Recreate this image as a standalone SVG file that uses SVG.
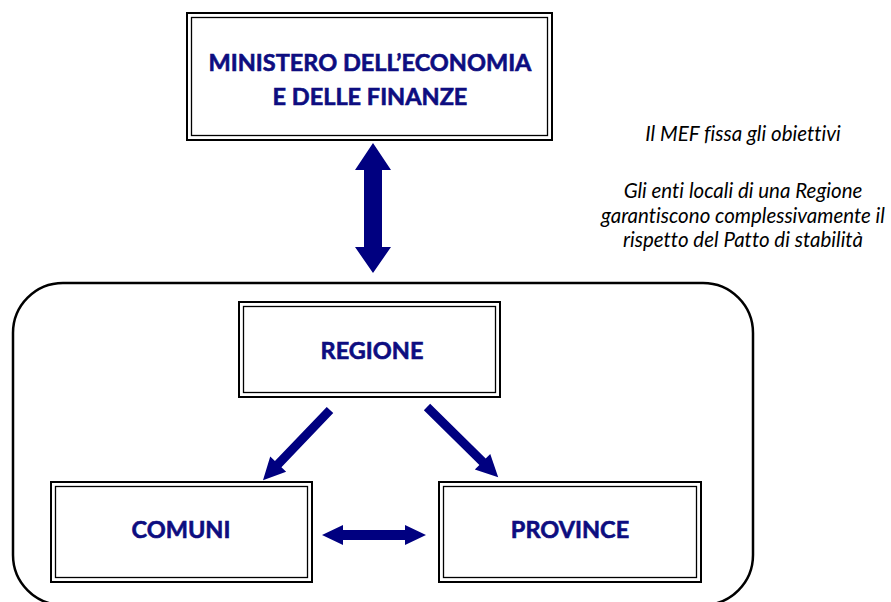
<svg xmlns="http://www.w3.org/2000/svg" width="891" height="602" viewBox="0 0 891 602">
<style>
.o{fill:#fff;stroke:#000;stroke-width:2}
.i{fill:none;stroke:#000;stroke-width:1.3}
.t{font-family:Lato,"Open Sans","Liberation Sans",sans-serif;font-weight:bold;fill:#0d0d80;stroke:#0d0d80;stroke-width:0.6;text-anchor:middle;font-size:23.5px}
.n{font-family:Lato,"Open Sans","Liberation Sans",sans-serif;font-style:italic;fill:#000;text-anchor:middle;font-size:20.5px;font-variant-ligatures:none}
.a{fill:#000080}
</style>
<rect x="13" y="283" width="740" height="322" rx="50" ry="50" fill="none" stroke="#000" stroke-width="2.5"/>
<g id="mef">
<rect class="o" x="187" y="13" width="365" height="127"/>
<rect class="i" x="191.5" y="17.5" width="356" height="118"/>
<text class="t" x="370" y="70.5">MINISTERO DELL’ECONOMIA</text>
<text class="t" x="370" y="105">E DELLE FINANZE</text>
</g>
<g id="regione">
<rect class="o" x="239" y="302" width="261" height="95"/>
<rect class="i" x="243.5" y="306.5" width="252" height="86"/>
<text class="t" x="372" y="359">REGIONE</text>
</g>
<g id="comuni">
<rect class="o" x="51" y="482" width="261" height="100"/>
<rect class="i" x="55.5" y="486.5" width="252" height="91"/>
<text class="t" x="181" y="538">COMUNI</text>
</g>
<g id="province">
<rect class="o" x="439" y="482" width="262" height="100"/>
<rect class="i" x="443.5" y="486.5" width="253" height="91"/>
<text class="t" x="570" y="538">PROVINCE</text>
</g>
<g id="note">
<text class="n" x="743" y="141">Il MEF fissa gli obiettivi</text>
<text class="n" x="743" y="198">Gli enti locali di una Regione</text>
<text class="n" x="743" y="222.5">garantiscono complessivamente il</text>
<text class="n" x="743" y="247">rispetto del Patto di stabilità</text>
</g>
<g id="connectors">
<polygon class="a" points="373,143 391,170 382,170 382,247 391,247 373,273 355,247 364,247 364,170 355,170"/>
<polygon class="a" points="322,535 343,525 343,530 405,530 405,525 426,535 405,545 405,540 343,540 343,545"/>
<polygon class="a" transform="translate(330,410) rotate(133.7)" points="0,-4.5 75,-4.5 75,-11 97,0 75,11 75,4.5 0,4.5"/>
<polygon class="a" transform="translate(427,407) rotate(44.6)" points="0,-4.5 78,-4.5 78,-11 100,0 78,11 78,4.5 0,4.5"/>
</g>
</svg>
